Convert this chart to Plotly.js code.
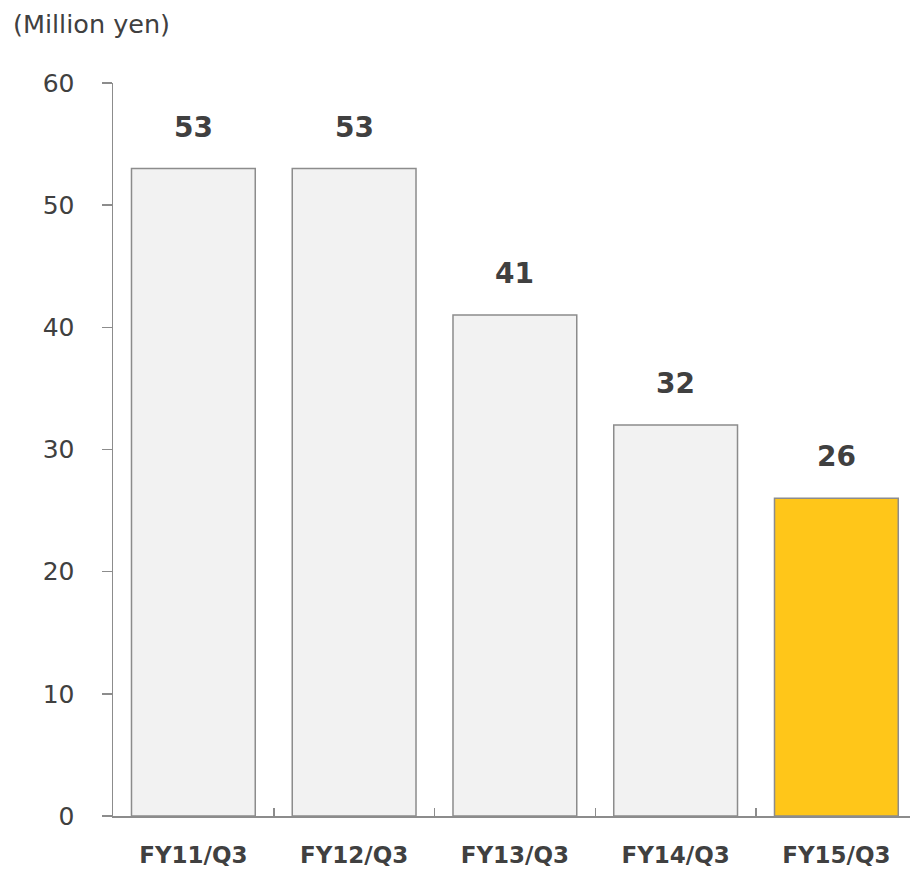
<!DOCTYPE html>
<html>
<head>
<meta charset="utf-8">
<script src="https://cdn.plot.ly/plotly-3.0.1.min.js"></script>
<style>
  html, body { margin: 0; padding: 0; background: #ffffff; }
  #chart { width: 910px; height: 870px; }
</style>
</head>
<body>
<div id="chart"></div>
<script>
// Quarterly values, in million yen
const categories = ["FY11/Q3", "FY12/Q3", "FY13/Q3", "FY14/Q3", "FY15/Q3"];
const values = [53, 53, 41, 32, 26];
const yTicks = [0, 10, 20, 30, 40, 50, 60];

// Latest quarter is highlighted
const barColors = categories.map((c, i) => i === categories.length - 1 ? "#FFC619" : "#F2F2F2");

const textColor = "#404040";
const axisColor = "#8C8C8C";
const fontFamily = "DejaVu Sans, Verdana, sans-serif";

const trace = {
  type: "bar",
  x: categories,
  y: values,
  marker: {
    color: barColors,
    line: { color: axisColor, width: 1.5 }
  },
  width: 0.77,
  hoverinfo: "x+y"
};

// Value labels above each bar
const labels = categories.map((c, i) => ({
  x: c,
  y: values[i],
  xref: "x",
  yref: "y",
  text: String(values[i]),
  showarrow: false,
  yanchor: "bottom",
  yshift: 23,
  font: { family: fontFamily, size: 28, color: textColor, weight: "bold" }
}));

const layout = {
  width: 910,
  height: 870,
  margin: { l: 113, r: 0, t: 83, b: 54, pad: 0 },
  paper_bgcolor: "#ffffff",
  plot_bgcolor: "#ffffff",
  showlegend: false,
  title: {
    text: "(Million yen)",
    xref: "container",
    yref: "container",
    x: 13 / 910,
    xanchor: "left",
    y: 1 - 24 / 870,
    yanchor: "middle",
    font: { family: fontFamily, size: 25.5, color: textColor }
  },
  xaxis: {
    type: "category",
    range: [-0.5, 4.458],
    showline: true,
    linecolor: axisColor,
    linewidth: 1.5,
    showgrid: false,
    zeroline: false,
    ticks: "inside",
    tickson: "boundaries",
    ticklen: 8,
    tickwidth: 1.5,
    tickcolor: axisColor,
    ticklabelstandoff: 18,
    tickfont: { family: fontFamily, size: 23, color: textColor, weight: "bold" },
    fixedrange: true
  },
  yaxis: {
    range: [0, 60],
    tickmode: "array",
    tickvals: yTicks,
    ticktext: yTicks.map(String),
    showline: true,
    linecolor: axisColor,
    linewidth: 1.5,
    showgrid: false,
    zeroline: false,
    ticks: "outside",
    ticklen: 10,
    tickwidth: 1.5,
    tickcolor: axisColor,
    ticklabelstandoff: 22,
    tickfont: { family: fontFamily, size: 25, color: textColor },
    fixedrange: true
  },
  annotations: labels
};

Plotly.newPlot("chart", [trace], layout, { staticPlot: true, displayModeBar: false });
</script>
</body>
</html>
